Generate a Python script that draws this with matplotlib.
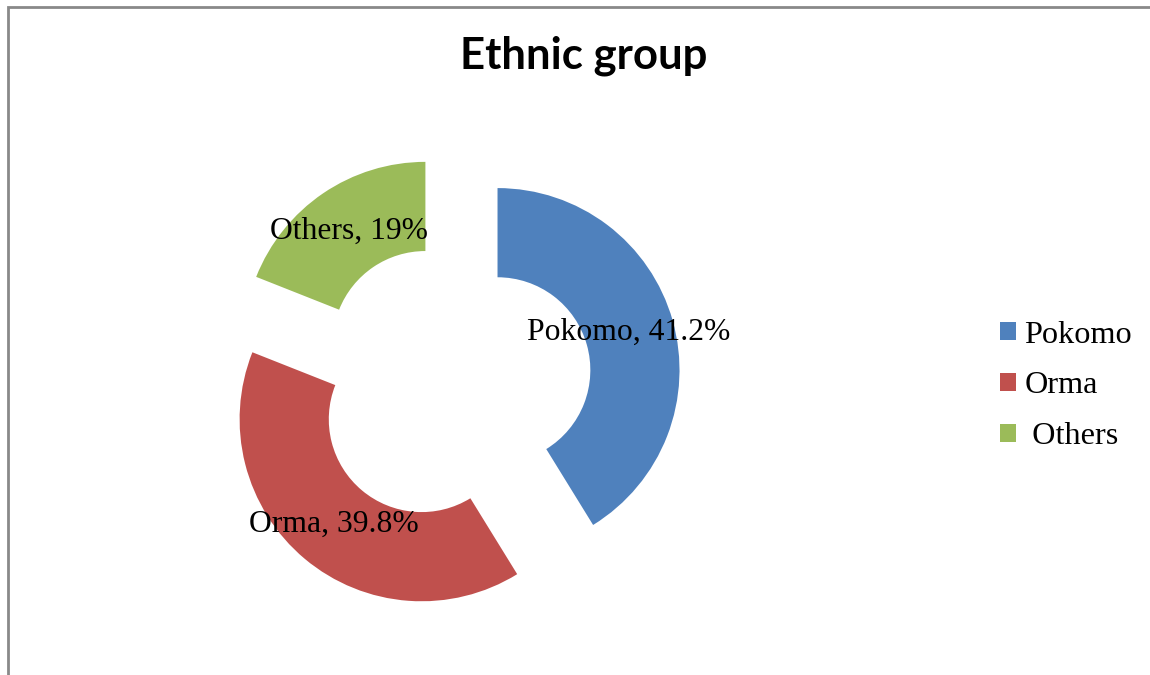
import matplotlib.pyplot as plt
from matplotlib.patches import Rectangle

groups = ["Pokomo", "Orma", "Others"]
shares = [41.2, 39.8, 19]
share_text = ["41.2%", "39.8%", "19%"]
legend_labels = ["Pokomo", "Orma", " Others"]
colors = ["#4F81BD", "#C0504D", "#9BBB59"]

W, H = 1150, 675
fig = plt.figure(figsize=(W / 100, H / 100), dpi=100)
fig.patch.set_facecolor("white")

# chart frame (only left and top edges fall inside the image)
fig.add_artist(Rectangle((7.5 / W, -0.2), 1.5, (H - 6.5) / H + 0.2,
                         transform=fig.transFigure, fill=False,
                         edgecolor="#898989", linewidth=2))

# donut axes: centre at (452, 383) px, outer radius 182 px
R = 182.0
cx, cy = 452.0, 383.0
half = 260.0
ax = fig.add_axes([(cx - half) / W, (H - cy - half) / H, 2 * half / W, 2 * half / H])
ax.axis("off")

labels = [f"{g}, {t}" for g, t in zip(groups, share_text)]
wedges, texts = ax.pie(shares, colors=colors, startangle=90, counterclock=False,
                       radius=1.0, explode=[0.26] * 3, labels=labels,
                       labeldistance=0.75,
                       wedgeprops=dict(width=0.49, linewidth=0),
                       textprops=dict(fontfamily="Liberation Serif", fontsize=22.8,
                                      color="black"))
for t in texts:
    t.set_horizontalalignment("center")
    t.set_verticalalignment("center")
ax.set_xlim(-half / R, half / R)
ax.set_ylim(-half / R, half / R)

fig.text(584 / W, 1 - 56 / H, "Ethnic group", ha="center", va="center",
         fontfamily="Lato", fontweight="bold", fontsize=31.5)

fig.legend(wedges, legend_labels, loc="center left",
           bbox_to_anchor=(1000 / W, 1 - 386 / H), frameon=False,
           prop=dict(family="Liberation Serif", size=23.2),
           handlelength=0.5, handleheight=0.5, handletextpad=0.25,
           labelspacing=0.68, borderpad=0, borderaxespad=0)

fig.savefig("out.png", dpi=100)
